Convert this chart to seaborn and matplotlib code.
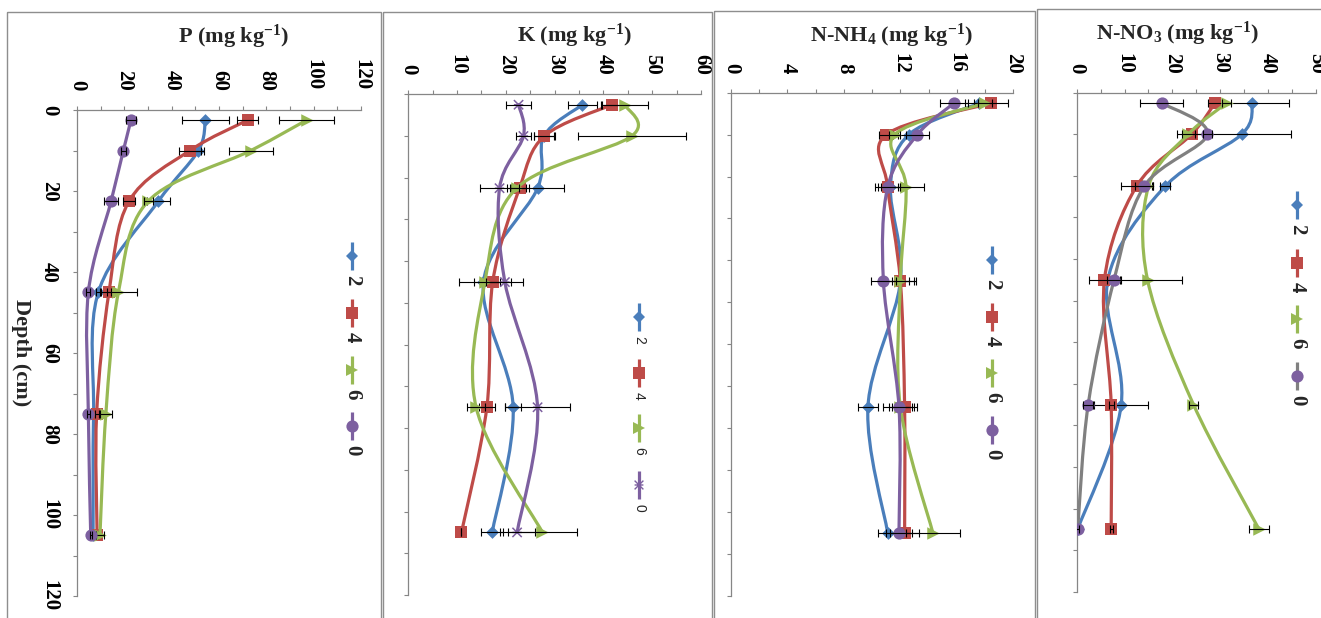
import numpy as np
import matplotlib
matplotlib.use("Agg")
import matplotlib.pyplot as plt
import seaborn as sns
from matplotlib.path import Path
from matplotlib.patches import PathPatch, Rectangle

# ---------------- data ----------------
depth = [2.5, 10, 22.5, 45, 75, 105]
series = ["2", "4", "6", "0"]

p_2 = [54.2, 51.3, 34.4, 9.0, 7.0, 6.8]
p_4 = [72.1, 47.7, 22.0, 13.5, 8.3, 8.5]
p_6 = [97.0, 73.5, 30.1, 17.5, 12.2, 9.7]
p_0 = [22.8, 19.6, 14.4, 4.8, 4.8, 5.8]
p_2_err = [9.9, 2.4, 4.8, 1.0, 0.5, 0.5]
p_4_err = [4.3, 4.5, 2.6, 1.0, 0.8, 0.5]
p_6_err = [11.5, 9.4, 2.0, 7.7, 2.5, 1.5]
p_0_err = [2.0, 1.0, 2.8, 0.8, 0.5, 0.5]

k_2 = [35.7, 27.8, 26.5, 15.4, 21.5, 17.2]
k_4 = [41.7, 27.9, 22.8, 17.3, 16.1, 10.9]
k_6 = [44.4, 45.8, 22.2, 15.7, 13.9, 27.5]
k_0 = [22.6, 23.6, 18.7, 19.8, 26.5, 22.3]
k_2_err = [2.9, 2.1, 5.5, 2.0, 1.7, 2.3]
k_4_err = [2.0, 2.1, 2.0, 1.5, 1.7, 0.0]
k_6_err = [4.8, 11.1, 2.0, 5.3, 1.9, 7.0]
k_0_err = [2.6, 1.5, 4.0, 3.8, 6.7, 3.6]

nh_2 = [17.6, 12.6, 11.3, 12.0, 9.7, 11.1]
nh_4 = [18.4, 11.0, 11.1, 12.0, 12.3, 12.3]
nh_6 = [18.0, 11.6, 12.4, 12.0, 12.0, 14.3]
nh_0 = [15.8, 13.2, 11.1, 10.8, 11.9, 11.9]
nh_2_err = [1.0, 0.8, 0.7, 0.6, 0.7, 0.7]
nh_4_err = [1.2, 0.5, 0.7, 1.1, 0.9, 1.0]
nh_6_err = [0.5, 0.4, 1.3, 1.0, 0.8, 1.9]
nh_0_err = [1.0, 0.8, 0.9, 0.9, 1.1, 0.9]

no_2 = [36.7, 34.5, 18.5, 6.5, 9.3, 0.2]
no_4 = [28.9, 24.0, 12.5, 5.8, 7.2, 7.2]
no_6 = [31.3, 23.3, 15.0, 14.8, 24.4, 38.1]
no_0 = [17.8, 27.3, 14.1, 7.8, 2.4, 0.2]
no_2_err = [7.7, 10.3, 1.0, 1.0, 5.7, 0.3]
no_4_err = [1.5, 3.1, 3.3, 3.3, 0.5, 0.3]
no_6_err = [1.0, 1.4, 1.0, 7.2, 1.0, 2.0]
no_0_err = [4.5, 1.0, 1.9, 1.5, 1.0, 0.3]

# ---------------- style ----------------
W, H = 1321, 618
sns.set_theme(style="white")
plt.rcParams['font.family'] = ['Liberation Serif', 'DejaVu Serif']
plt.rcParams['mathtext.fontset'] = 'custom'
plt.rcParams['mathtext.rm'] = 'Liberation Serif:bold'
plt.rcParams['mathtext.bf'] = 'Liberation Serif:bold'
plt.rcParams['mathtext.it'] = 'Liberation Serif:bold:italic'

BLUE, RED, GREEN, PURPLE, GREY = '#4A7EBB', '#BE4B48', '#98B954', '#7D60A0', '#808080'
AXC = '#868686'
colors = [BLUE, RED, GREEN, PURPLE]

star = Path([(-1, -1), (1, 1), (-1, 1), (1, -1), (-1, 0), (1, 0)],
            [Path.MOVETO, Path.LINETO, Path.MOVETO, Path.LINETO, Path.MOVETO, Path.LINETO])

MK = {'D': 6.5, 's': 8.5, '>': 9.0, 'o': 8.8}

fig = plt.figure(figsize=(W / 100, H / 100), dpi=100)


def px_axes(x0, x1, y0, y1):
    return fig.add_axes([x0 / W, 1 - y1 / H, (x1 - x0) / W, (y1 - y0) / H])


def smooth_path(x, y):
    P = np.column_stack([x, y]).astype(float)
    n = len(P)
    verts = [P[0]]
    codes = [Path.MOVETO]
    for i in range(n - 1):
        p0 = P[i - 1] if i > 0 else P[i]
        p3 = P[i + 2] if i + 2 < n else P[i + 1]
        c1 = P[i] + (P[i + 1] - p0) / 6
        c2 = P[i + 1] - (p3 - P[i]) / 6
        verts += [c1, c2, P[i + 1]]
        codes += [Path.CURVE4] * 3
    return Path(verts, codes)


def panel(box, vals, errs, xmax, step, label_step, markers, linecolors, ylabels):
    ax = px_axes(*box)
    ax.patch.set_alpha(0)
    for i, (v, e) in enumerate(zip(vals, errs)):
        z = 3 + i
        ax.add_patch(PathPatch(smooth_path(v, depth), fill=False, edgecolor=linecolors[i],
                               lw=2.3, zorder=z, capstyle='round', joinstyle='round'))
        m = markers[i]
        if isinstance(m, Path):
            sns.scatterplot(x=v, y=depth, ax=ax, marker=m, s=45, facecolors='none',
                            edgecolors=colors[i], linewidths=1.1, zorder=z + 0.3)
        else:
            sns.scatterplot(x=v, y=depth, ax=ax, marker=m, s=MK[m] ** 2, color=colors[i],
                            edgecolor=colors[i], linewidth=0, zorder=z + 0.3)
        ax.errorbar(v, depth, xerr=e, fmt='none', ecolor='black', elinewidth=0.8,
                    capsize=2.6, capthick=0.8, zorder=z + 0.5)
    ax.set_xlim(0, xmax)
    ax.set_ylim(120, 0)
    ax.xaxis.tick_top()
    xt = np.arange(0, xmax + 1e-6, step)
    ax.set_xticks(xt)
    ax.set_xticklabels([f"{t:g}" if abs(t / label_step - round(t / label_step)) < 1e-6 else "" for t in xt],
                       rotation=-90, fontsize=15, fontweight='bold')
    yt = np.arange(0, 121, 10)
    ax.set_yticks(yt)
    if ylabels:
        ax.set_yticklabels([f"{t}" if t % 20 == 0 else "" for t in yt], rotation=-90,
                           fontsize=15, fontweight='bold', va='center')
    else:
        ax.set_yticklabels([])
    ax.set_xlabel(None)
    ax.set_ylabel(None)
    sns.despine(ax=ax, top=False, right=True, bottom=True, left=False)
    for s in ('top', 'left'):
        ax.spines[s].set_color(AXC)
        ax.spines[s].set_linewidth(0.9)
    ax.tick_params(axis='x', direction='out', length=3, width=0.8, color=AXC, pad=11,
                   top=True, bottom=False, labeltop=True, labelbottom=False)
    ax.tick_params(axis='y', direction='out', length=3, width=0.8, color=AXC, pad=10,
                   left=True)
    for lab in ax.get_xticklabels() + ax.get_yticklabels():
        lab.set_color('black')
    return ax


mk_std = ['D', 's', '>', 'o']

panel((77, 361, 110, 596), [p_2, p_4, p_6, p_0], [p_2_err, p_4_err, p_6_err, p_0_err],
      120, 10, 20, mk_std, colors, True)
panel((408.3, 701, 94.3, 595), [k_2, k_4, k_6, k_0], [k_2_err, k_4_err, k_6_err, k_0_err],
      60, 5, 10, ['D', 's', '>', star], colors, False)
panel((731, 1013.3, 92.7, 595.7), [nh_2, nh_4, nh_6, nh_0], [nh_2_err, nh_4_err, nh_6_err, nh_0_err],
      20, 2, 4, mk_std, colors, False)
panel((1076.7, 1316, 92.7, 591.7), [no_2, no_4, no_6, no_0], [no_2_err, no_4_err, no_6_err, no_0_err],
      50, 5, 10, mk_std, [BLUE, RED, GREEN, GREY], False)

# ---------------- overlay: frames, titles, legends ----------------
ov = fig.add_axes([0, 0, 1, 1])
ov.set_xlim(0, W)
ov.set_ylim(H, 0)
ov.axis('off')
ov.patch.set_alpha(0)

FRC = '#8e8e8e'
for x0, y0, x1 in [(7, 12, 380.5), (383, 12, 712), (714, 11, 1035), (1037, 9, 1330)]:
    ov.add_patch(Rectangle((x0, y0), x1 - x0, 700, fill=False, ec=FRC, lw=1.0))

titles = [(233.5, 43, r"P (mg kg$^{\mathbf{-1}}$)"),
          (574, 42, r"K (mg kg$^{\mathbf{-1}}$)"),
          (891, 42, r"N-NH$_{\mathbf{4}}$ (mg kg$^{\mathbf{-1}}$)"),
          (1177, 40, r"N-NO$_{\mathbf{3}}$ (mg kg$^{\mathbf{-1}}$)")]
for x, y, t in titles:
    ov.text(x, y, t, ha='center', va='baseline', fontsize=16, fontweight='bold')

ov.text(21, 353, "Depth (cm)", rotation=-90, ha='center', va='center', fontsize=16, fontweight='bold')


def legend(x, ys, markers, lcolors, small=False):
    for i, y in enumerate(ys):
        ov.plot([x, x], [y - 14, y + 14], color=lcolors[i], lw=2.3, solid_capstyle='butt')
        m = markers[i]
        if isinstance(m, Path):
            ov.scatter([x], [y], marker=m, s=40, facecolors='none', edgecolors=colors[i], linewidths=1.0, zorder=5)
        else:
            ov.plot([x], [y], marker=m, ms=MK[m], color=colors[i], mec=colors[i], mew=0, ls='none', zorder=5)
        if small:
            ov.text(x, y + 23, series[i], rotation=-90, ha='center', va='center', fontsize=10,
                    family=['Liberation Sans', 'DejaVu Sans'])
        else:
            ov.text(x, y + 24, series[i], rotation=-90, ha='center', va='center', fontsize=15,
                    fontweight='bold')


legend(352, [256, 313, 370, 426], mk_std, colors)
legend(639, [317, 373, 428, 485], ['D', 's', '>', star], colors, small=True)
legend(992, [260, 317, 373, 430], mk_std, colors)
legend(1297, [205, 263, 319, 376], mk_std, [BLUE, RED, GREEN, GREY])

fig.savefig("out.png", dpi=100)
